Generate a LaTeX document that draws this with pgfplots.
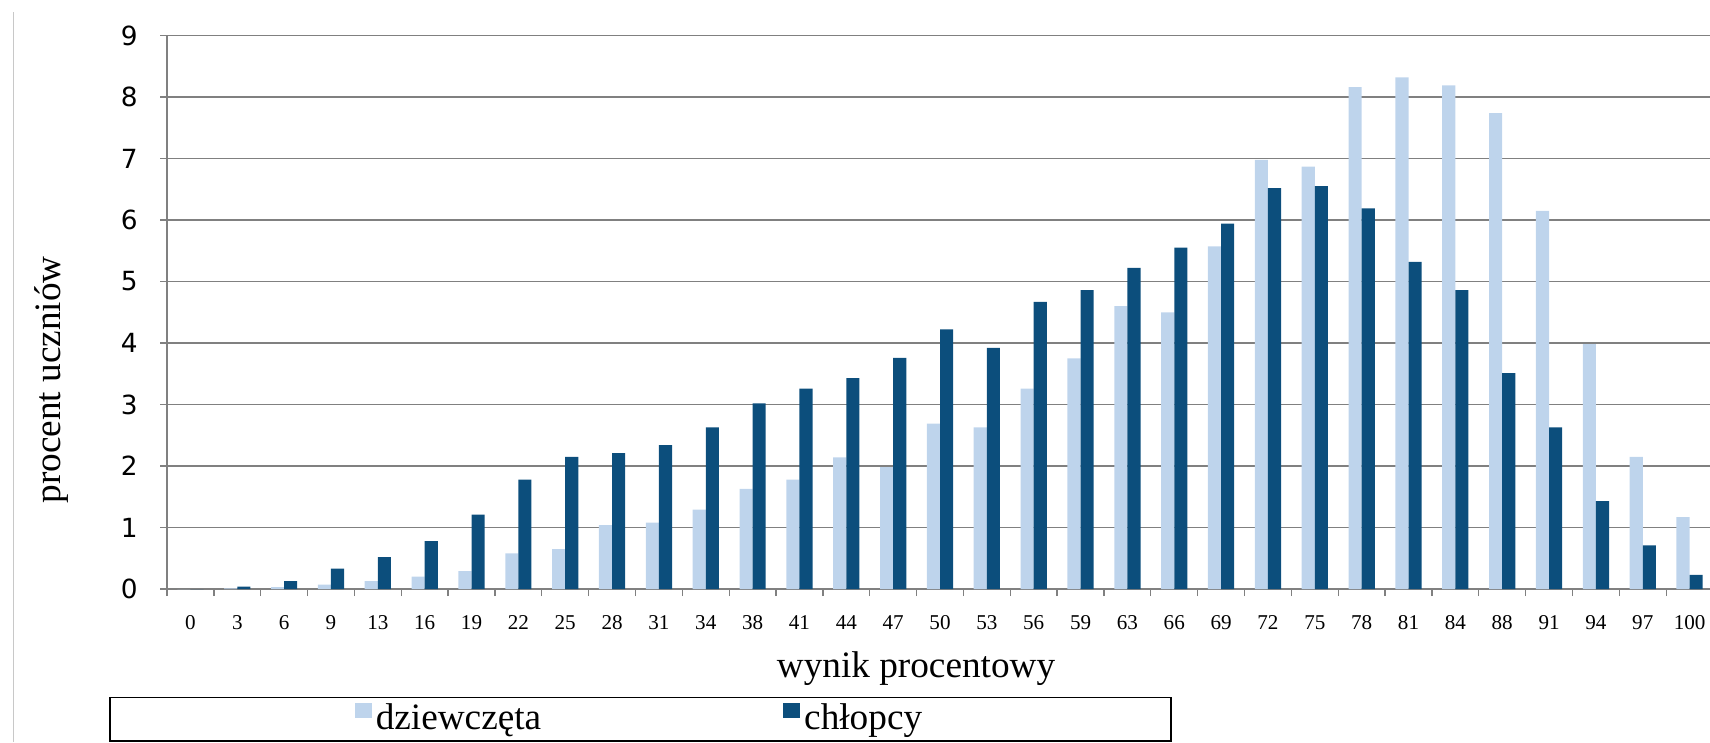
\documentclass[border=0pt]{standalone}
\usepackage{fontspec}
\setmainfont{Liberation Serif}
\newfontfamily\tickfont{DejaVu Sans}
\newfontfamily\seriffont{Liberation Serif}
\usepackage{graphicx}
\usepackage{pgfplots}
\usepackage{pgfplotstable}
\pgfplotsset{compat=1.18}
\definecolor{axisgray}{RGB}{128,128,128}
\definecolor{girls}{RGB}{190,212,236}
\definecolor{boys}{RGB}{12,78,124}
\definecolor{framegray}{RGB}{200,200,200}

\pgfplotstableread{
i  g     b
0  0.00  0.00
1  0.01  0.04
2  0.03  0.13
3  0.07  0.33
4  0.13  0.52
5  0.20  0.78
6  0.29  1.21
7  0.58  1.78
8  0.65  2.15
9  1.04  2.21
10 1.08  2.34
11 1.29  2.63
12 1.63  3.02
13 1.78  3.26
14 2.14  3.43
15 1.98  3.76
16 2.69  4.22
17 2.63  3.92
18 3.26  4.67
19 3.75  4.86
20 4.60  5.22
21 4.50  5.55
22 5.57  5.94
23 6.98  6.52
24 6.87  6.55
25 8.16  6.19
26 8.32  5.32
27 8.19  4.86
28 7.74  3.51
29 6.15  2.63
30 3.98  1.43
31 2.15  0.71
32 1.17  0.23
}\data

\begin{document}
\begin{tikzpicture}
\path[use as bounding box] (0,0) rectangle (171mm,74.2mm);
\draw[framegray, line width=0.1mm] (1.33mm,0) -- (1.33mm,73.0mm);
\begin{axis}[
  at={(16.7mm,15.3mm)}, anchor=south west,
  scale only axis,
  width=154.6mm, height=55.35mm,
  xmin=-0.5, xmax=32.5,
  ymin=0, ymax=9,
  axis x line*=bottom, axis y line*=left,
  axis line style={draw=axisgray, line width=0.13mm},
  tick align=outside,
  major tick length=0.7mm,
  tick style={draw=axisgray, line width=0.13mm},
  ymajorgrids,
  grid style={draw=axisgray, line width=0.13mm},
  ytick={0,1,...,9},
  xtick={-0.5,0.5,...,32.5},
  x tick label as interval,
  xticklabels={0,3,6,9,13,16,19,22,25,28,31,34,38,41,44,47,50,53,56,59,63,66,69,72,75,78,81,84,88,91,94,97,100},
  xticklabel style={font=\seriffont\fontsize{6}{7}\selectfont, anchor=base, yshift=-3.3mm},
  yticklabel style={font=\tickfont\fontsize{7.5}{9}\selectfont, anchor=east, xshift=-1.0mm},
  /pgf/number format/assume math mode=true,
  xlabel={wynik procentowy},
  ylabel={procent uczniów},
  xlabel style={font=\seriffont\fontsize{10.6}{12}\selectfont, at={(axis description cs:0.4845,-0.159)}, anchor=base},
  ylabel style={font=\seriffont\fontsize{10.6}{12}\selectfont, at={(axis description cs:-0.0686,0.378)}, anchor=base},
  legend columns=2,
  legend style={
    at={(axis description cs:-0.0375,-0.1951)}, anchor=north west,
    draw=black, line width=0.15mm,
    inner xsep=24.5mm, inner ysep=0.3mm,
    font=\seriffont\fontsize{10.6}{12}\selectfont,
    nodes={inner xsep=0.4mm, inner ysep=0.3mm},
    /tikz/every even column/.append style={column sep=23.8mm},
  },
  legend image code/.code={\fill[#1] (0mm,0.1mm) rectangle (1.7mm,1.6mm);},
]
\addplot[ybar, bar width=0.28, bar shift=-0.14, fill=girls, draw=none] table[x=i, y=g] {\data};
\addplot[ybar, bar width=0.28, bar shift=0.14, fill=boys, draw=none] table[x=i, y=b] {\data};
\addlegendentry{\seriffont\fontsize{10.6}{12}\selectfont dziewczęta}
\addlegendentry{\seriffont\fontsize{10.6}{12}\selectfont chłopcy}
\end{axis}
\end{tikzpicture}
\end{document}
